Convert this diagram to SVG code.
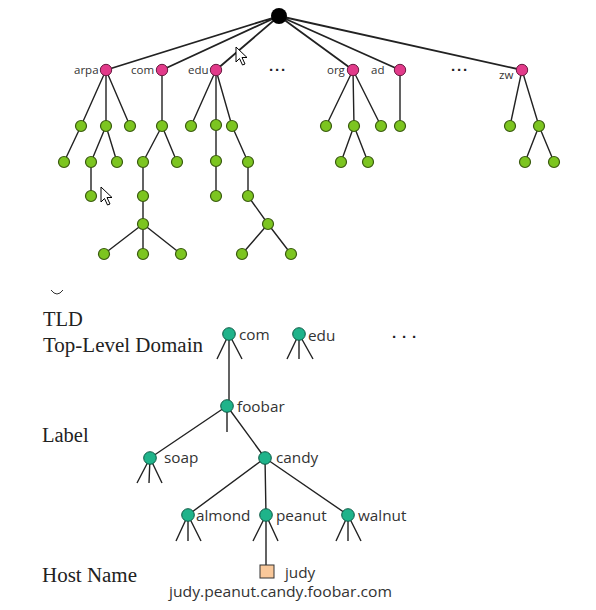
<svg xmlns="http://www.w3.org/2000/svg" width="596" height="610" viewBox="0 0 596 610">
<style>
.e{stroke:#222;stroke-width:1.8;fill:none}
.e2{stroke:#222;stroke-width:1.4;fill:none}
.pk{fill:#e23a8a;stroke:#6a1a40;stroke-width:1}
.gn{fill:#7cc520;stroke:#3a5a10;stroke-width:1.2}
.tl{fill:#1fb38a;stroke:#0e5a45;stroke-width:1}
.lb{font-family:"Open Sans","DejaVu Sans",sans-serif;font-size:11.5px;fill:#333}
.lb2{font-family:"Open Sans","DejaVu Sans",sans-serif;font-size:15.3px;fill:#333}
.sf{font-family:"Liberation Serif","DejaVu Serif",serif;font-size:20.5px;fill:#222}
.dots{font-family:"Liberation Sans",sans-serif;font-size:15px;fill:#222;font-weight:bold}
</style>
<rect width="596" height="610" fill="#fff"/>
<g id="connectors">
<path class="e" d="M279,16L106,70M279,16L162,70M279,16L216,70M279,16L353,70M279,16L400,70M279,16L522,70"/>
<path class="e2" d="M106,70L81,126M106,70L106,126M106,70L130,126M162,70L162,126M216,70L191,126M216,70L216,125M216,70L232,126M353,70L326,126M353,70L354,126M353,70L381,126M400,70L400,126M522,70L510,126M522,70L539,126"/>
<path class="e2" d="M81,126L64,162M106,126L91,162M106,126L117,162M162,126L143,162M162,126L177,162M216,125L216,161M232,126L248,162M354,126L341,162M354,126L368,162M539,126L525,162M539,126L554,162"/>
<path class="e2" d="M91,162L91,196M143,162L143,196M216,161L216,196M248,162L248,196M143,196L143,224M248,196L268,224M143,224L104,254M143,224L143,254M143,224L181,254M268,224L242,254M268,224L291,254"/>
<path class="e2" d="M229,334L217,359M229,334L242,359M229,334L229,406M299,334L287,359M299,334L299,359M299,334L313,359M227,406L227,432M227,406L150,458M227,406L265,458M150,458L137,483M150,458L149,483M150,458L162,483M265,458L188,515M265,458L266,515M265,458L348,515M188,515L176,541M188,515L188,541M188,515L201,541M266,515L253,541M266,515L278,541M266,515L266,566M348,515L336,541M348,515L348,541M348,515L361,541"/>
</g>
<g id="root"><circle cx="279" cy="16" r="8" fill="#000"/></g>
<g id="arpa"><circle class="pk" cx="106" cy="70" r="5.7"/><text class="lb" x="74" y="74">arpa</text></g>
<g id="com-top"><circle class="pk" cx="162" cy="70" r="5.7"/><text class="lb" x="131" y="74">com</text></g>
<g id="edu-top"><circle class="pk" cx="216" cy="70" r="5.7"/><text class="lb" x="188" y="74">edu</text></g>
<g id="org"><circle class="pk" cx="353" cy="70" r="5.7"/><text class="lb" x="327" y="74">org</text></g>
<g id="ad"><circle class="pk" cx="400" cy="70" r="5.7"/><text class="lb" x="371" y="74">ad</text></g>
<g id="zw"><circle class="pk" cx="522" cy="70" r="5.7"/><text class="lb" x="499" y="79">zw</text></g>
<g id="dots-top"><text class="dots" x="269" y="75" style="letter-spacing:1px">···</text><text class="dots" x="451" y="75" style="letter-spacing:1px">···</text></g>
<g id="leaves">
<circle class="gn" cx="81" cy="126" r="5.5"/><circle class="gn" cx="106" cy="126" r="5.5"/><circle class="gn" cx="130" cy="126" r="5.5"/>
<circle class="gn" cx="162" cy="126" r="5.5"/><circle class="gn" cx="191" cy="126" r="5.5"/><circle class="gn" cx="216" cy="125" r="5.5"/><circle class="gn" cx="232" cy="126" r="5.5"/>
<circle class="gn" cx="326" cy="126" r="5.5"/><circle class="gn" cx="354" cy="126" r="5.5"/><circle class="gn" cx="381" cy="126" r="5.5"/><circle class="gn" cx="400" cy="126" r="5.5"/>
<circle class="gn" cx="510" cy="126" r="5.5"/><circle class="gn" cx="539" cy="126" r="5.5"/>
<circle class="gn" cx="64" cy="162" r="5.5"/><circle class="gn" cx="91" cy="162" r="5.5"/><circle class="gn" cx="117" cy="162" r="5.5"/><circle class="gn" cx="143" cy="162" r="5.5"/><circle class="gn" cx="177" cy="162" r="5.5"/><circle class="gn" cx="216" cy="161" r="5.5"/><circle class="gn" cx="248" cy="162" r="5.5"/>
<circle class="gn" cx="341" cy="162" r="5.5"/><circle class="gn" cx="368" cy="162" r="5.5"/><circle class="gn" cx="525" cy="162" r="5.5"/><circle class="gn" cx="554" cy="162" r="5.5"/>
<circle class="gn" cx="91" cy="196" r="5.5"/><circle class="gn" cx="143" cy="196" r="5.5"/><circle class="gn" cx="216" cy="196" r="5.5"/><circle class="gn" cx="248" cy="196" r="5.5"/>
<circle class="gn" cx="143" cy="224" r="5.5"/><circle class="gn" cx="268" cy="224" r="5.5"/>
<circle class="gn" cx="104" cy="254" r="5.5"/><circle class="gn" cx="143" cy="254" r="5.5"/><circle class="gn" cx="181" cy="254" r="5.5"/><circle class="gn" cx="242" cy="254" r="5.5"/><circle class="gn" cx="291" cy="254" r="5.5"/>
</g>
<g id="cursors" fill="#fff" stroke="#000" stroke-width="1">
<path d="M236,47l0,15l3.5,-3.5l3,6.5l2.5,-1l-3,-6.5l5,0z"/>
<path d="M101,187l0,15l3.5,-3.5l3,6.5l2.5,-1l-3,-6.5l5,0z"/>
</g>
<path d="M51,290q6,8 12,0" fill="none" stroke="#333" stroke-width="1"/>
<g id="levels">
<text class="sf" x="43" y="326">TLD</text>
<text class="sf" x="43" y="352" textLength="160" lengthAdjust="spacingAndGlyphs">Top-Level Domain</text>
<text class="sf" x="42" y="442">Label</text>
<text class="sf" x="42" y="582" textLength="95" lengthAdjust="spacingAndGlyphs">Host Name</text>
</g>
<g id="com"><circle class="tl" cx="229" cy="334" r="6.3"/><text class="lb2" x="239" y="340">com</text></g>
<g id="edu"><circle class="tl" cx="299" cy="334" r="6.3"/><text class="lb2" x="308" y="341">edu</text></g>
<g id="dots-bottom"><text class="dots" x="392" y="342" style="letter-spacing:5px">···</text></g>
<g id="foobar"><circle class="tl" cx="227" cy="406" r="6.3"/><text class="lb2" x="237" y="412">foobar</text></g>
<g id="soap"><circle class="tl" cx="150" cy="458" r="6.3"/><text class="lb2" x="164" y="463">soap</text></g>
<g id="candy"><circle class="tl" cx="265" cy="458" r="6.3"/><text class="lb2" x="276" y="463">candy</text></g>
<g id="almond"><circle class="tl" cx="188" cy="515" r="6.3"/><text class="lb2" x="196" y="521">almond</text></g>
<g id="peanut"><circle class="tl" cx="266" cy="515" r="6.3"/><text class="lb2" x="276" y="521">peanut</text></g>
<g id="walnut"><circle class="tl" cx="348" cy="515" r="6.3"/><text class="lb2" x="358" y="521">walnut</text></g>
<g id="judy"><rect x="260" y="565" width="14" height="13" fill="#f9c89a" stroke="#333" stroke-width="1"/><text class="lb2" x="285" y="578">judy</text></g>
<g id="fqdn"><text class="lb2" x="169" y="597" textLength="223" lengthAdjust="spacingAndGlyphs">judy.peanut.candy.foobar.com</text></g>
</svg>
